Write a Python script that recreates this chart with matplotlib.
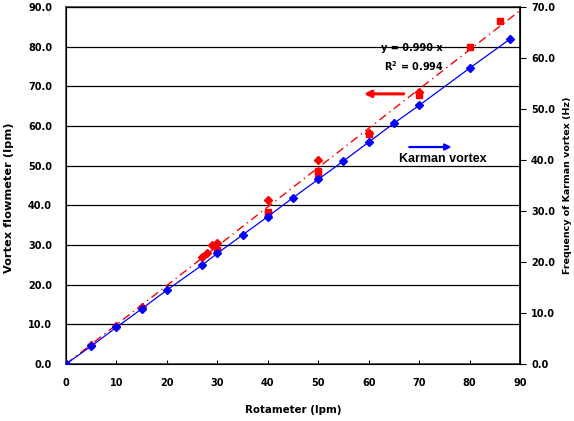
import matplotlib.pyplot as plt
import numpy as np

plt.rcParams['font.family'] = ['DejaVu Sans']
plt.rcParams['font.weight'] = 'bold'

# vortex flowmeter readings (lpm) vs rotameter (lpm)
red_x_dia = [0, 5, 10, 15, 27, 28, 29, 30, 40, 50, 60, 70]
red_y_dia = [0, 4.8, 9.6, 14.4, 26.9, 28.1, 29.9, 30.5, 41.3, 51.4, 58.3, 68.5]
red_x_sq = [30, 40, 40, 50, 50, 60, 70, 80, 86]
red_y_sq = [28.8, 38.4, 37.8, 48.7, 47.9, 58.0, 67.8, 80.0, 86.5]
slope = 0.990

# Karman vortex frequency (Hz)
blue_x = [0, 5, 10, 15, 20, 27, 30, 35, 40, 45, 50, 55, 60, 65, 70, 80, 88]
blue_y = [0, 3.5, 7.2, 10.8, 14.5, 19.4, 21.7, 25.3, 28.9, 32.6, 36.2, 39.8, 43.5, 47.2, 50.7, 58.0, 63.7]

fig = plt.figure(figsize=(5.74, 4.21), dpi=100)
ax = fig.add_axes([66/574, 1-364/421, 454/574, 357/421])

ax.set_xlim(0, 90)
ax.set_ylim(0, 90)
ax.set_xticks(range(0, 91, 10))
ax.set_yticks(range(0, 91, 10))
ax.set_yticklabels([f"{v:.1f}" for v in range(0, 91, 10)])
ax.grid(axis='y', color='black', linewidth=0.9)
ax.set_axisbelow(True)
ax.tick_params(axis='x', direction='in', length=3, labelsize=7, pad=10)
ax.tick_params(axis='y', length=0, labelsize=7, pad=10)
for lab in ax.get_xticklabels() + ax.get_yticklabels():
    lab.set_fontweight('bold')
for s in ['left', 'bottom', 'top']:
    ax.spines[s].set_color('#404040')
    ax.spines[s].set_linewidth(1.2)

fx = np.array([0, 90])
ax.plot(fx, slope * fx, color='red', linestyle=(0, (6, 3, 1, 3)), linewidth=1, zorder=3)
ax.plot(red_x_dia, red_y_dia, linestyle='none', marker='D', markersize=4.5, color='red', zorder=4)
ax.plot(red_x_sq, red_y_sq, linestyle='none', marker='s', markersize=5, color='red', zorder=4)

ax.set_xlabel('Rotameter (lpm)', fontsize=7.4, fontweight='bold', labelpad=12)
ax.set_ylabel('Vortex flowmeter (lpm)', fontsize=8.2, fontweight='bold')
ax.yaxis.set_label_coords(-0.1145, 0.465)

ax.text(68.6, 79.7, 'y = 0.990 x', fontsize=7, fontweight='bold', ha='center', va='center')
ax.text(68.9, 75.2, 'R$^\\mathbf{2}$ = 0.994', fontsize=7, fontweight='bold', ha='center', va='center')
ax.annotate('', xy=(58.5, 68.1), xytext=(67.5, 68.1),
            arrowprops=dict(arrowstyle='-|>', color='red', lw=2.2, mutation_scale=10))
ax.annotate('', xy=(77, 54.7), xytext=(67.5, 54.7),
            arrowprops=dict(arrowstyle='-|>', color='blue', lw=1.6, mutation_scale=9))
ax.text(74.6, 51.6, 'Karman vortex', fontsize=9, fontweight='bold', ha='center', va='center',
        family=['Liberation Sans', 'DejaVu Sans'])

ax2 = ax.twinx()
ax2.set_ylim(0, 70)
ax2.set_yticks(range(0, 71, 10))
ax2.set_yticklabels([f"{v:.1f}" for v in range(0, 71, 10)])
ax2.tick_params(axis='y', direction='out', length=4, labelsize=7, pad=4)
for lab in ax2.get_yticklabels():
    lab.set_fontweight('bold')
ax2.spines['right'].set_linewidth(1.2)
ax2.plot(blue_x, blue_y, color='blue', linewidth=0.9, marker='D', markersize=4.5, zorder=5)
ax2.set_ylabel('Frequency of Karman vortex (Hz)', fontsize=6.8, fontweight='bold')
ax2.yaxis.set_label_coords(1.094, 0.5)

fig.savefig('out.png', dpi=100)
